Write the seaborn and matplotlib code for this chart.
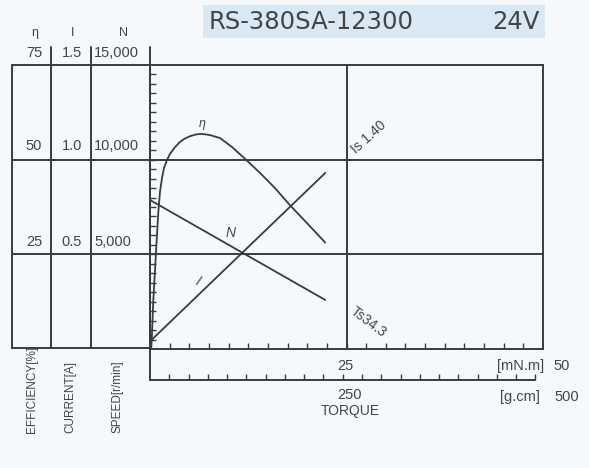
import numpy as np
import pandas as pd
import matplotlib
matplotlib.use("Agg")
import matplotlib.pyplot as plt
from matplotlib.patches import Rectangle
import seaborn as sns

# Values
MODEL = "RS-380SA-12300"
VOLTAGE = "24V"
STALL_CURRENT = "Is 1.40"
STALL_TORQUE = "Ts34.3"

speed_torque = [0.0, 22.3]          # mN.m
speed_rpm = [7870, 2590]            # r/min

current_torque = [0.0, 22.3]
current_amp = [0.04, 0.93]          # A

eff_torque = [0.15, 0.22, 0.32, 0.42, 0.64, 0.85, 1.06, 1.27, 1.53, 1.78, 2.16,
              2.54, 3.18, 3.82, 4.45, 5.09, 5.73, 6.36, 7.0, 7.63, 8.91, 10.4,
              12.1, 14.0, 15.9, 17.8, 19.9, 22.3]
eff_pct = [0.0, 2.4, 7.6, 12.9, 20.9, 28.8, 36.2, 41.5, 45.2, 47.8, 49.9,
           51.5, 53.3, 54.7, 55.6, 56.2, 56.6, 56.8, 56.7, 56.5, 55.7, 53.4,
           50.2, 46.5, 42.5, 38.0, 33.4, 28.1]

# left scale table (top to bottom)
eff_labels = ["75", "50", "25"]
cur_labels = ["1.5", "1.0", "0.5"]
spd_labels = ["15,000", "10,000", "5,000"]

# chart scale: 75 % == 1.5 A == 15,000 r/min
CUR_SCALE = 75 / 1.5
SPD_SCALE = 75 / 15000
GCM_TO_MNM = 0.0980665

INK = "#3b3b3b"
TXT = "#444444"
BG = "#f6f9fb"

sns.set_style("white")
plt.rcParams["font.family"] = ["Liberation Sans", "DejaVu Sans"]

W, H = 589, 468
fig = plt.figure(figsize=(W / 100, H / 100), dpi=100, facecolor=BG)

# decoration layer in pixel coordinates
deco = fig.add_axes([0, 0, 1, 1], zorder=0)
deco.set_xlim(0, W)
deco.set_ylim(H, 0)
deco.axis("off")

# main plot area: torque 0..50 mN.m, 0..75 on the shared scale
ax = fig.add_axes([150 / W, 1 - 349 / H, (543 - 150) / W, (349 - 65) / H], zorder=1)
ax.patch.set_alpha(0)
ax.set_xlim(0, 50)
ax.set_ylim(0, 75)

curves = pd.concat([
    pd.DataFrame({"torque": eff_torque, "value": eff_pct, "curve": "eta"}),
    pd.DataFrame({"torque": current_torque,
                  "value": np.array(current_amp) * CUR_SCALE, "curve": "I"}),
    pd.DataFrame({"torque": speed_torque,
                  "value": np.array(speed_rpm) * SPD_SCALE, "curve": "N"}),
])
sns.lineplot(data=curves, x="torque", y="value", units="curve", estimator=None,
             sort=False, color=INK, lw=1.3, ax=ax, legend=False)

for side in ["left", "right", "top", "bottom"]:
    ax.spines[side].set_color(INK)
    ax.spines[side].set_linewidth(1.4)
ax.set_xlabel("")
ax.set_ylabel("")
ax.set_xticks(np.arange(2.5, 50, 2.5))
ax.set_yticks(np.arange(2.5, 75, 2.5))
ax.tick_params(axis="both", direction="in", length=4, width=1, color=INK,
               bottom=True, left=True, labelleft=False, labelbottom=False)

# grid lines, the horizontal ones run through the left table
for lvl in [25, 50]:
    ax.plot([-0.351, 1], [lvl, lvl], transform=ax.get_yaxis_transform(),
            color=INK, lw=1.4, clip_on=False)
ax.axvline(25, color=INK, lw=1.4)

# second torque scale in g.cm
gcm_y = -31 / 284
ax.plot([0, 500 * GCM_TO_MNM], [gcm_y, gcm_y], transform=ax.get_xaxis_transform(),
        color=INK, lw=1.4, clip_on=False)
ax.vlines(np.arange(25, 501, 25) * GCM_TO_MNM, gcm_y, gcm_y + 6 / 284,
          transform=ax.get_xaxis_transform(), color=INK, lw=1, clip_on=False)

# left table frame
line_kw = dict(color=INK, lw=1.4)
deco.plot([12, 150], [65, 65], **line_kw)
deco.plot([12, 150], [348, 348], **line_kw)
deco.plot([12, 12], [65, 348], **line_kw)
deco.plot([51, 51], [47, 348], **line_kw)
deco.plot([91, 91], [47, 348], **line_kw)
deco.plot([150, 150], [47, 380], **line_kw)

# table headers and values
for x, s in zip([35, 73, 123], ["η", "I", "N"]):
    deco.text(x, 33, s, ha="center", va="center", fontsize=9, color=TXT)
for row_y, e, c, n in zip([53, 146, 242], eff_labels, cur_labels, spd_labels):
    deco.text(34, row_y, e, ha="center", va="center", fontsize=10.5, color=TXT)
    deco.text(72, row_y, c, ha="center", va="center", fontsize=10.5, color=TXT)
    deco.text(94, row_y, n, ha="left", va="center", fontsize=10.5, color=TXT)

for x, s in zip([32, 70, 118], ["EFFICIENCY[%]", "CURRENT[A]", "SPEED[r/min]"]):
    deco.text(x, 433, s, rotation=90, ha="center", va="bottom", fontsize=8.5, color=TXT)

# title box
deco.add_patch(Rectangle((203, 5), 342, 33, facecolor="#d8e8f4", edgecolor="none"))
deco.text(209, 22, MODEL, ha="left", va="center", fontsize=17.5, color=TXT,
          family="DejaVu Sans")
deco.text(540, 22, VOLTAGE, ha="right", va="center", fontsize=17.5, color=TXT,
          family="DejaVu Sans")

# torque scale labels
deco.text(345, 366, "25", ha="center", va="center", fontsize=10.5, color=TXT)
deco.text(521, 366, "[mN.m]", ha="center", va="center", fontsize=10.5, color=TXT)
deco.text(562, 366, "50", ha="center", va="center", fontsize=10.5, color=TXT)
deco.text(350, 395, "250", ha="center", va="center", fontsize=10.5, color=TXT)
deco.text(520, 397, "[g.cm]", ha="center", va="center", fontsize=10.5, color=TXT)
deco.text(567, 397, "500", ha="center", va="center", fontsize=10.5, color=TXT)
deco.text(350, 411, "TORQUE", ha="center", va="center", fontsize=10, color=TXT)

# curve names and stall values
deco.text(202, 124, "η", ha="center", va="center", fontsize=9, color=TXT, style="italic")
deco.text(231, 233, "N", ha="center", va="center", fontsize=10, color=TXT, style="italic")
deco.text(198, 282, "I", ha="center", va="center", fontsize=10, color=TXT, rotation=-35)
deco.text(369, 137, STALL_CURRENT, ha="center", va="center", fontsize=10,
          color=TXT, rotation=42)
deco.text(368, 322, STALL_TORQUE, ha="center", va="center", fontsize=10,
          color=TXT, rotation=-37)

fig.savefig("out.png", dpi=100, facecolor=BG)
